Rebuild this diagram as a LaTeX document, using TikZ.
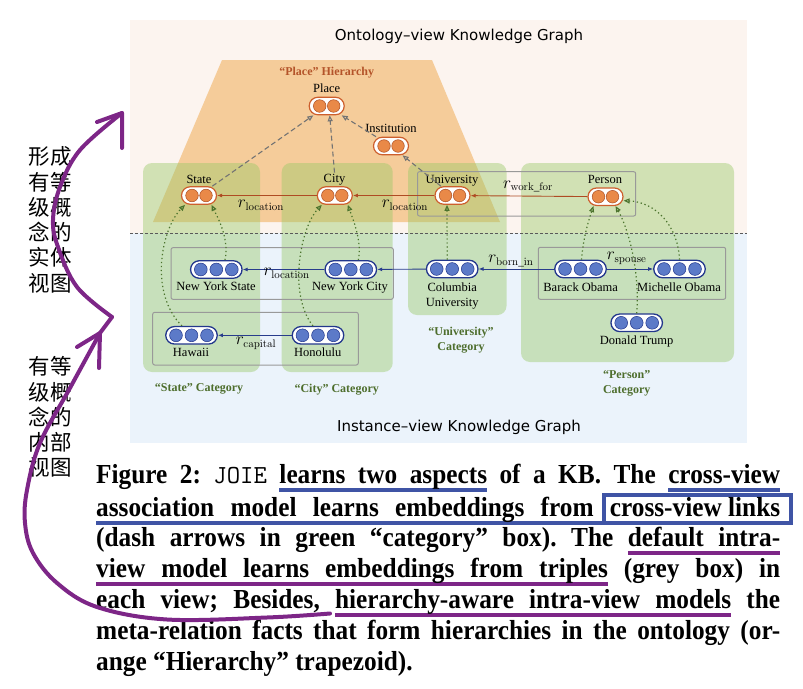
\documentclass[tikz,border=0pt]{standalone}
\usepackage[no-math]{fontspec}
\setmainfont{Liberation Serif}
\newfontfamily\capfont[FakeStretch=0.92]{Liberation Serif}
\newfontfamily\cjk{Noto Sans CJK SC}
\newfontfamily\headfont{DejaVu Sans}
\usepackage{amsmath}
\usetikzlibrary{arrows.meta}
\definecolor{peach}{RGB}{252,244,239}
\definecolor{skyb}{RGB}{235,243,251}
\definecolor{trap}{RGB}{240,172,85}
\definecolor{catg}{RGB}{150,200,100}
\definecolor{catt}{RGB}{78,110,45}
\definecolor{hier}{RGB}{180,84,42}
\definecolor{oborder}{RGB}{205,95,45}
\definecolor{ofill}{RGB}{233,137,72}
\definecolor{bborder}{RGB}{35,55,140}
\definecolor{bfill}{RGB}{92,122,200}
\definecolor{oedgec}{RGB}{175,75,35}
\definecolor{iedgec}{RGB}{40,60,140}
\definecolor{crossc}{RGB}{75,115,45}
\definecolor{annblue}{RGB}{63,84,165}
\definecolor{annpurple}{RGB}{125,38,135}
% word-by-word underline whose gaps stretch with the line
\def\ulcol{annblue}
\def\ulstop{\ulstop}
\newcommand\ulword[1]{\setbox0=\hbox{#1}\rlap{\textcolor{\ulcol}{\rule[-8.5pt]{\wd0}{4pt}}}\copy0\relax}
\newcommand\ulgap{\begingroup\color{\ulcol}\leaders\hrule height -4.5pt depth 8.5pt\hskip\fontdimen2\font plus\fontdimen3\font minus\fontdimen4\font\endgroup}
\def\ulgo#1 {\ulword{#1}\ulnext}
\def\ulnext#1{\ifx#1\ulstop\else\ulgap\expandafter\ulgo\expandafter#1\fi}
\newcommand\ulB[1]{\leavevmode\def\ulcol{annblue}\ulgo#1 \ulstop}
\newcommand\ulP[1]{\leavevmode\def\ulcol{annpurple}\ulgo#1 \ulstop}
\newcommand\linkbox[1]{\leavevmode\setbox0=\hbox{#1}\rlap{\kern-7.5pt\textcolor{annblue}{\setlength{\fboxsep}{0pt}\setlength{\fboxrule}{3.5pt}\fbox{\vrule width 0pt height 19.5pt depth 5pt\hspace*{\dimexpr\wd0+13pt\relax}}}}\copy0\relax}
\tikzset{
 opill/.style={draw=oborder, fill=white, line width=1.2pt, rounded corners=8.7pt, minimum width=35pt, minimum height=17.5pt, inner sep=0pt},
 ocirc/.style={fill=ofill, draw=oborder!85!black, line width=0.5pt},
 bpill/.style={draw=bborder, fill=white, line width=1.3pt, rounded corners=8.7pt, minimum width=51.5pt, minimum height=17.5pt, inner sep=0pt},
 bcirc/.style={fill=bfill, draw=bborder, line width=0.5pt},
 lbl/.style={font=\fontsize{12.5}{15.3}\selectfont, inner sep=0pt, text height=9.5pt, text depth=1.5pt},
 lbl2/.style={font=\fontsize{12.5}{15.3}\selectfont, inner sep=0pt, align=center},
 mlbl/.style={font=\fontsize{16}{18}\selectfont, inner sep=0pt},
 catlbl/.style={font=\fontsize{12}{15}\selectfont\bfseries, text=catt, align=center, inner sep=0pt},
 hierlbl/.style={font=\fontsize{12}{15}\selectfont\bfseries, text=hier, inner sep=0pt},
 headf/.style={font=\headfont\fontsize{15}{18}\selectfont, inner sep=0pt},
 catbox/.style={fill=catg, fill opacity=0.42, rounded corners=9pt},
 gbox/.style={draw=black!40, line width=1pt, rounded corners=2pt},
 sepline/.style={draw=black!65, line width=0.8pt, dash pattern=on 3pt off 2pt},
 oedge/.style={draw=oedgec, line width=0.9pt, -{Latex[length=5pt,width=4pt]}},
 iedge/.style={draw=iedgec, line width=0.9pt, -{Latex[length=5pt,width=4pt]}},
 hedge/.style={draw=black!55, line width=1.1pt, dash pattern=on 5pt off 3pt, -{Triangle[open,length=6pt,width=5pt]}},
 cedge/.style={draw=crossc, line width=1.2pt, dash pattern=on 1.3pt off 2.7pt, -{Triangle[open,length=6pt,width=5pt]}},
 ann/.style={draw=annpurple, line width=4pt, line cap=round, line join=round},
 cjkblock/.style={font=\cjk\fontsize{21.5}{25.3}\selectfont, inner sep=0pt, anchor=base west},
}
\newcommand\ontnode[2]{\node[opill] (#1) at (#2) {};
 \foreach \dx in {-7,7} {\draw[ocirc] ([xshift=\dx pt]#1.center) circle (6.3pt);}}
\newcommand\insnode[2]{\node[bpill] (#1) at (#2) {};
 \foreach \dx in {-15.5,0,15.5} {\draw[bcirc] ([xshift=\dx pt]#1.center) circle (6.4pt);}}
\begin{document}
\begin{tikzpicture}[x=1pt,y=-1pt]
\useasboundingbox (0,0) rectangle (803,688);
% backgrounds
\fill[peach] (130,20) rectangle (746.5,233);
\fill[skyb] (130,233) rectangle (746.5,443);
\node[headf] (ontitle) at (459,36) {Ontology–view Knowledge Graph};
\node[headf] (institle) at (459,427) {Instance–view Knowledge Graph};
% hierarchy trapezoid
\fill[trap, fill opacity=0.55] (222,60) -- (432,60) -- (500,222) -- (153,222) -- cycle;
\node[hierlbl] (hiert) at (326.7,72.2) {“Place” Hierarchy};
% category boxes
\foreach \xa/\ya/\xb/\yb in {143/163/260/372, 281.7/163/392.7/372, 408/163/506.5/315, 521/163/734/362}
  {\fill[catbox] (\xa,\ya) rectangle (\xb,\yb);}
\draw[sepline] (130,233) -- (746.5,233);
% grey triple boxes
\draw[gbox] (417.5,171.7) rectangle (635.7,216);
\draw[gbox] (171,247.7) rectangle (393.3,299.3);
\draw[gbox] (152.7,312.3) rectangle (358.3,365);
\draw[gbox] (538.3,247.3) rectangle (725.7,299.3);
% category labels
\node[catlbl] (catstate) at (199,389.2) {“State” Category};
\node[catlbl] (catcity) at (336.7,389.2) {“City” Category};
\node[catlbl] (catuni) at (461,340.4) {“University”\\Category};
\node[catlbl] (catperson) at (626.7,383.5) {“Person”\\Category};
% ontology nodes
\ontnode{place}{326.7,106}
\ontnode{inst}{391,146}
\ontnode{state}{199,195.5}
\ontnode{city}{334.8,195.5}
\ontnode{uni}{452.5,195.5}
\ontnode{person}{605.5,196.7}
\node[lbl] (placel) at (326.7,88.3) {Place};
\node[lbl] (instl) at (391,128.7) {Institution};
\node[lbl] (statel) at (199,179.3) {State};
\node[lbl] (cityl) at (334.5,178.3) {City};
\node[lbl] (unil) at (452,179.3) {University};
\node[lbl] (personl) at (605,179.7) {Person};
% instance nodes
\insnode{nys}{216.3,269.5}
\insnode{nyc}{350.8,269.5}
\insnode{hawaii}{191.5,335.3}
\insnode{honolulu}{318,335.3}
\insnode{colu}{452.2,269}
\insnode{barack}{580.5,269}
\insnode{michelle}{679.5,269}
\insnode{trump}{636.7,322.8}
\node[lbl] (nysl) at (216,286.3) {New York State};
\node[lbl] (nycl) at (350,286.3) {New York City};
\node[lbl] (hawaiil) at (191,352.2) {Hawaii};
\node[lbl] (honolulul) at (317.7,352.2) {Honolulu};
\node[lbl2] (colul) at (452.3,296) {Columbia\\University};
\node[lbl] (barackl) at (580.7,287.2) {Barack Obama};
\node[lbl] (michellel) at (679,287.2) {Michelle Obama};
\node[lbl] (trumpl) at (636.7,340) {Donald Trump};
% ontology relations
\draw[oedge] (city) -- (state);
\draw[oedge] (uni) -- (city);
\draw[oedge] (person) -- (uni);
\node[mlbl] (rloc1) at (261,205) {$r_{\mathrm{location}}$};
\node[mlbl] (rloc2) at (405,205) {$r_{\mathrm{location}}$};
\node[mlbl] (rwork) at (528,186.7) {$r_{\mathrm{work\_for}}$};
% hierarchy meta-relations
\draw[hedge] (state) -- (place);
\draw[hedge] (cityl.north) -- ([xshift=3pt]place.south);
\draw[hedge] (inst) -- (place);
\draw[hedge] (uni) -- (inst);
% instance relations
\draw[iedge] (nyc) -- (nys);
\draw[iedge] (colu) -- (nyc);
\draw[iedge] (honolulu) -- (hawaii);
\draw[iedge] (barack) -- (colu);
\draw[iedge] (barack) -- (michelle);
\node[mlbl] (rloc3) at (286.7,273.3) {$r_{\mathrm{location}}$};
\node[mlbl] (rcap) at (256,343.3) {$r_{\mathrm{capital}}$};
\node[mlbl] (rborn) at (511,261) {$r_{\mathrm{born\_in}}$};
\node[mlbl] (rspouse) at (626.7,258.3) {$r_{\mathrm{spouse}}$};
% cross-view links
\draw[cedge] ([xshift=8.7pt]nys.north) .. controls (229,240) and (220,222) .. ([xshift=12.5pt]state.south);
\draw[cedge] ([xshift=-9.5pt]hawaii.north) .. controls (148,292) and (162,228) .. ([xshift=-14pt]state.south);
\draw[cedge] ([xshift=7.5pt]nyc.north) .. controls (362,242) and (354,222) .. ([xshift=13pt]city.south);
\draw[cedge] ([xshift=-5pt]honolulu.north) .. controls (288,295) and (300,228) .. ([xshift=-13pt]city.south);
\draw[cedge] ([xshift=-5pt]colu.north) -- ([xshift=-5.5pt]uni.south);
\draw[cedge] ([xshift=1pt]barack.north) .. controls (583,240) and (588,222) .. ([xshift=-12pt]person.south);
\draw[cedge] (trump.north) .. controls (640,270) and (628,228) .. ([xshift=10pt]person.south);
\draw[cedge] (michelle.north) .. controls (678,225) and (655,202) .. ([yshift=-4pt]person.east);
% Chinese annotations
\node[cjkblock] (zh1) at (28.5,164.7) {\parbox[t]{50pt}{形成\\有等\\级概\\念的\\实体\\视图}};
\node[cjkblock] (zh2) at (28.5,374.7) {\parbox[t]{50pt}{有等\\级概\\念的\\内部\\视图}};
% caption
\node[anchor=base west, inner sep=0pt] (caption) at (96,483.5) {\parbox[t]{684pt}{\capfont\fontsize{27.5}{30.8}\selectfont\bfseries\frenchspacing
\tolerance=9999 \hyphenpenalty=10000 \exhyphenpenalty=10000
Figure 2: {\mdseries\ttfamily\fontsize{26}{30.8}\selectfont JOIE} \ulB{learns two aspects} of a KB. The \ulB{cross-view}\linebreak
\ulB{association model learns embeddings from}{\def\ulcol{annblue}\ulgap}\linkbox{cross-view links}\linebreak
(dash arrows in green “category” box). The \ulP{default intra-}\linebreak
\ulP{view model learns embeddings from triples} (grey box) in\linebreak
each view; Besides, \ulP{hierarchy-aware intra-view models} the\linebreak
meta-relation facts that form hierarchies in the ontology (or-\linebreak
ange “Hierarchy” trapezoid).}};
% purple hand-drawn arrows
\draw[ann] plot[smooth, tension=0.6] coordinates {(330,613.5) (267,617.5) (167,619.5) (97,607) (57,583) (33,553) (25,523) (27,490) (40,443) (70,388) (100,333)} -- (112,317);
\draw[ann] plot[smooth, tension=0.6] coordinates {(112,317) (77,287) (58,247) (53,220) (60,187) (80,150) (122,113)};
\draw[ann] (97,122) -- (122,113) -- (122,148);
\draw[ann] (77,347) -- (100,333) -- (99,368);
\end{tikzpicture}
\end{document}
